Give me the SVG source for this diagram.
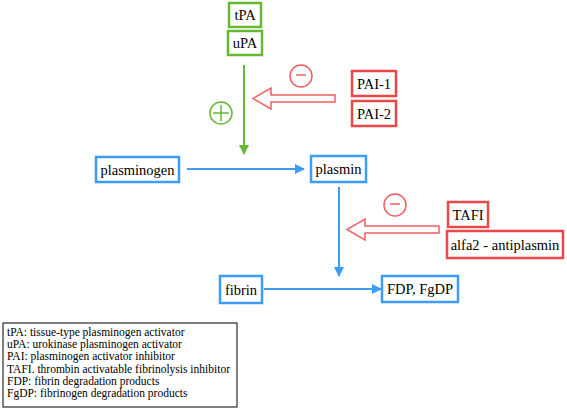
<svg xmlns="http://www.w3.org/2000/svg" width="567" height="410" viewBox="0 0 567 410" font-family="'Liberation Serif', 'Times New Roman', serif">
<style>
.g{fill:#fff;stroke:#66b832;stroke-width:2.5}
.b{fill:#fff;stroke:#3d9cf5;stroke-width:2.5}
.r{fill:#fff;stroke:#e84848;stroke-width:2.5}
.t{font-family:'Liberation Serif','Times New Roman',serif;font-size:14.5px;text-anchor:middle;fill:#000}
.l{font-family:'Liberation Serif','Times New Roman',serif;font-size:11.5px;fill:#000}
.bl{stroke:#3d9cf5;stroke-width:2;fill:none}
.gl{stroke:#66b832;stroke-width:2;fill:none}
.ha{fill:#fff;stroke:#f06060;stroke-width:1.5}
.sg{fill:none;stroke:#66b832;stroke-width:1.5}
.sr{fill:none;stroke:#f06060;stroke-width:1.5}
</style>
<defs>
<marker id="ab" markerWidth="10" markerHeight="10" refX="9" refY="5" orient="auto" markerUnits="userSpaceOnUse"><path d="M0,0 L10,5 L0,10 Z" fill="#3d9cf5"/></marker>
<marker id="ag" markerWidth="10" markerHeight="10" refX="9" refY="5" orient="auto" markerUnits="userSpaceOnUse"><path d="M0,0 L10,5 L0,10 Z" fill="#66b832"/></marker>
</defs>
<g id="connectors">
<line class="gl" x1="244" y1="65" x2="244" y2="154" marker-end="url(#ag)"/>
<line class="bl" x1="187" y1="169" x2="304" y2="169" marker-end="url(#ab)"/>
<line class="bl" x1="339" y1="187" x2="339" y2="276" marker-end="url(#ab)"/>
<line class="bl" x1="264" y1="289" x2="381" y2="289" marker-end="url(#ab)"/>
<path id="inhib1" class="ha" d="M335,95 L271,95 L271,88 L253,98.5 L271,109 L271,102 L335,102 Z"/>
<path id="inhib2" class="ha" d="M439,226 L365,226 L365,219 L347,229.5 L365,240 L365,233 L439,233 Z"/>
<g id="plus">
<circle class="sg" cx="221" cy="113" r="11"/>
<line class="sg" x1="213" y1="113" x2="229" y2="113"/>
<line class="sg" x1="221" y1="105" x2="221" y2="121"/>
</g>
<g id="minus1">
<circle class="sr" cx="301" cy="76" r="11"/>
<line class="sr" x1="296" y1="75" x2="306" y2="75"/>
</g>
<g id="minus2">
<circle class="sr" cx="395" cy="205" r="11"/>
<line class="sr" x1="390" y1="204" x2="400" y2="204"/>
</g>
</g>
<g id="tPA"><rect class="g" x="229" y="3" width="32" height="24"/><text class="t" x="245" y="20">tPA</text></g>
<g id="uPA"><rect class="g" x="228" y="31" width="34" height="24"/><text class="t" x="245" y="48">uPA</text></g>
<g id="PAI-1"><rect class="r" x="352" y="71" width="44" height="25"/><text class="t" x="374" y="88.5">PAI-1</text></g>
<g id="PAI-2"><rect class="r" x="352" y="101" width="44" height="25"/><text class="t" x="374" y="118.5">PAI-2</text></g>
<g id="plasminogen"><rect class="b" x="96" y="157" width="83" height="25"/><text class="t" x="137.5" y="174.5">plasminogen</text></g>
<g id="plasmin"><rect class="b" x="311" y="156" width="55" height="26"/><text class="t" x="338.5" y="174">plasmin</text></g>
<g id="TAFI"><rect class="r" x="448" y="202" width="40" height="25"/><text class="t" x="468" y="219.5">TAFI</text></g>
<g id="alfa2"><rect class="r" x="447" y="231" width="116" height="27"/><text class="t" x="505" y="249.5">alfa2 - antiplasmin</text></g>
<g id="fibrin"><rect class="b" x="220" y="276" width="42" height="27"/><text class="t" x="241" y="294.5">fibrin</text></g>
<g id="FDP"><rect class="b" x="382" y="276" width="76" height="26"/><text class="t" x="420" y="294">FDP, FgDP</text></g>
<g id="legend">
<rect x="3" y="323" width="234" height="84" fill="#fff" stroke="#000" stroke-width="1"/>
<text class="l" x="7" y="336">tPA: tissue-type plasminogen activator</text>
<text class="l" x="7" y="348.2">uPA: urokinase plasminogen activator</text>
<text class="l" x="7" y="360.4">PAI: plasminogen activator inhibitor</text>
<text class="l" x="7" y="372.6">TAFI. thrombin activatable fibrinolysis inhibitor</text>
<text class="l" x="7" y="384.8">FDP: fibrin degradation products</text>
<text class="l" x="7" y="397">FgDP: fibrinogen degradation products</text>
</g>
</svg>
